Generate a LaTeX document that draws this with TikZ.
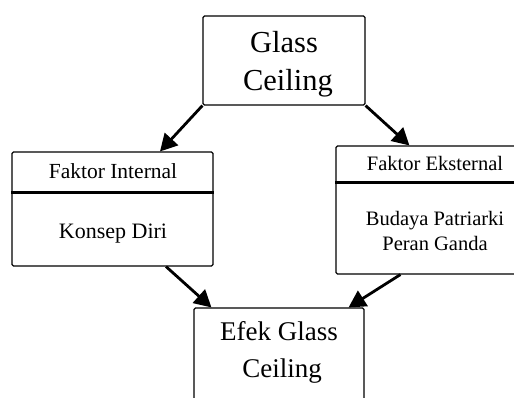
\documentclass[tikz,border=0pt]{standalone}
\usepackage{fontspec}
\setmainfont{Liberation Serif}
\usetikzlibrary{arrows.meta,calc}
\tikzset{
  box/.style={draw, line width=1.1pt, rounded corners=1.5pt, inner sep=0pt},
  txt/.style={anchor=base, inner sep=0pt},
  conn/.style={line width=2.8pt, -{Triangle[length=17pt,width=18pt]}},
  divider/.style={line width=3pt}
}
\begin{document}
\begin{tikzpicture}[x=1pt,y=-1pt]
\useasboundingbox (0,0) rectangle (514,397);
\clip (0,0) rectangle (514,397);
% boxes
\node[box, minimum width=162pt, minimum height=89pt] (top) at (284,60.5) {};
\node[box, minimum width=201pt, minimum height=114pt] (left) at (112.5,209) {};
\node[box, minimum width=200pt, minimum height=128pt] (right) at (436,210) {};
\node[box, minimum width=170pt, minimum height=120pt] (bot) at (279,368) {};
% dividers
\draw[divider] ($(left.north west)+(0,41)$) -- ($(left.north east)+(0,41)$);
\draw[divider] ($(right.north west)+(0,37)$) -- ($(right.north east)+(0,37)$);
% texts
\node[txt, font=\fontsize{30.5}{36}\selectfont] (t1) at (284,52) {Glass};
\node[txt, font=\fontsize{30.5}{36}\selectfont] (t2) at (288,90) {Ceiling};
\node[txt, font=\fontsize{21.5}{26}\selectfont] (l1) at (113,178) {Faktor Internal};
\node[txt, font=\fontsize{22}{26}\selectfont] (l2) at (113,238) {Konsep Diri};
\node[txt, font=\fontsize{20.5}{25}\selectfont] (r1) at (435,170) {Faktor Eksternal};
\node[txt, font=\fontsize{20.5}{25}\selectfont] (r2) at (435,225) {Budaya Patriarki};
\node[txt, font=\fontsize{20.5}{25}\selectfont] (r3) at (435,250) {Peran Ganda};
\node[txt, font=\fontsize{27}{32}\selectfont] (b1) at (279,340) {Efek Glass};
\node[txt, font=\fontsize{27}{32}\selectfont] (b2) at (282,377) {Ceiling};
% connectors
\draw[conn] (top.south west) -- ($(left.north)+(47.5,0)$);
\draw[conn] (top.south east) -- ($(right.north west)+(74,0)$);
\draw[conn] ($(left.south)+(53.5,0)$) -- ($(bot.north west)+(18,0)$);
\draw[conn] ($(right.south west)+(65,0)$) -- ($(bot.north east)+(-16,0)$);
\end{tikzpicture}
\end{document}
